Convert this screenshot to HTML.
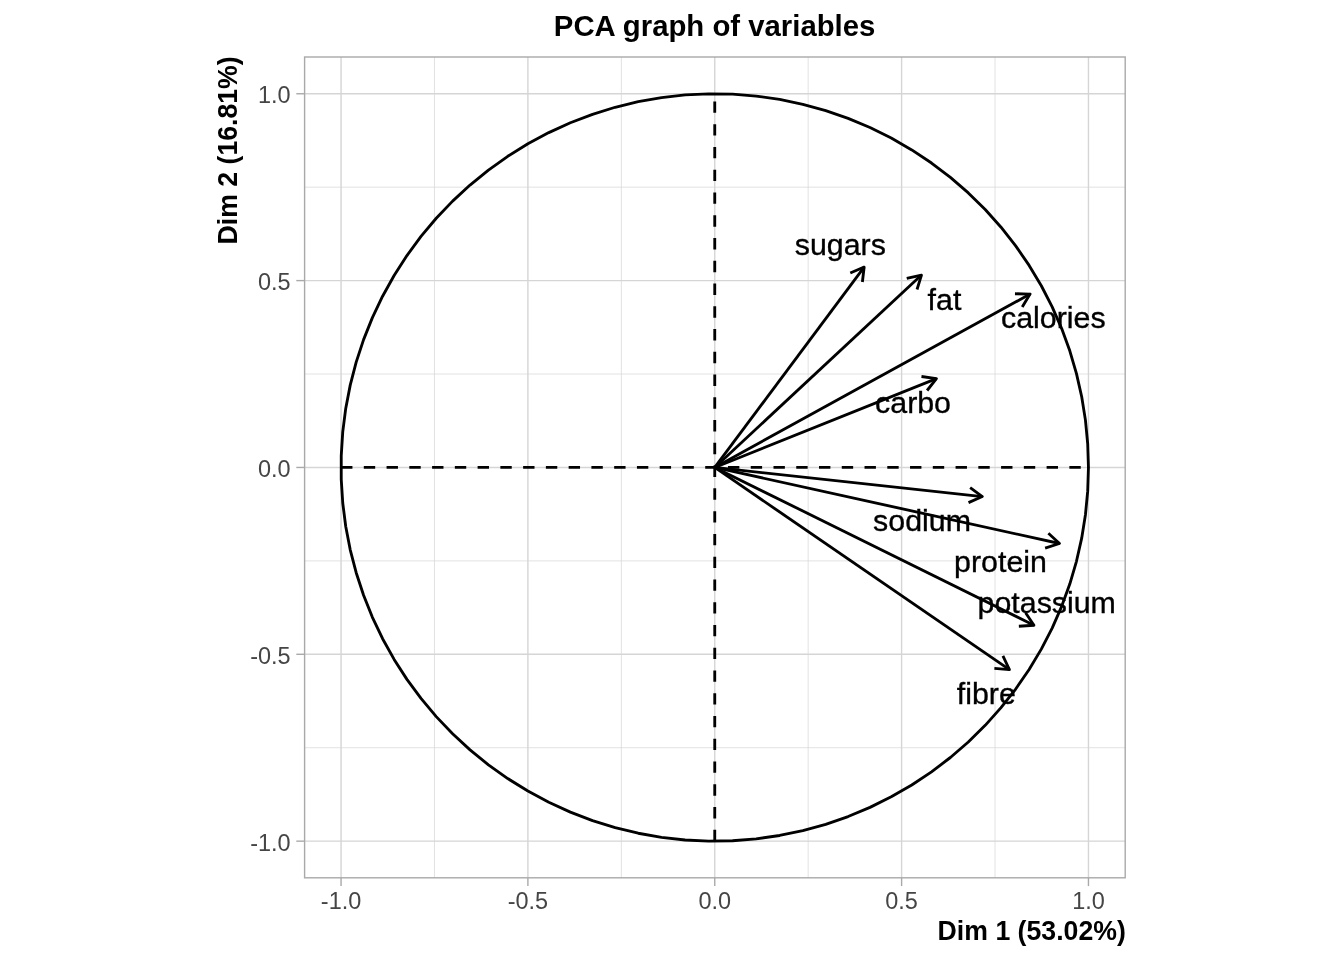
<!DOCTYPE html>
<html lang="en"><head><meta charset="utf-8"><title>PCA graph of variables</title>
<style>html,body{margin:0;padding:0;background:#fff;}svg{display:block;}text{font-family:"Liberation Sans",Arial,Helvetica,sans-serif;}</style></head><body>
<svg width="1344" height="960" viewBox="0 0 1344 960">
<rect width="1344" height="960" fill="#ffffff"/>
<g stroke="#d5d5d5" stroke-width="0.7" fill="none">
<line x1="434.48" y1="57.0" x2="434.48" y2="877.8"/>
<line x1="304.6" y1="747.72" x2="1125.2" y2="747.72"/>
<line x1="621.33" y1="57.0" x2="621.33" y2="877.8"/>
<line x1="304.6" y1="560.88" x2="1125.2" y2="560.88"/>
<line x1="808.17" y1="57.0" x2="808.17" y2="877.8"/>
<line x1="304.6" y1="374.02" x2="1125.2" y2="374.02"/>
<line x1="995.02" y1="57.0" x2="995.02" y2="877.8"/>
<line x1="304.6" y1="187.18" x2="1125.2" y2="187.18"/>
</g>
<g stroke="#d5d5d5" stroke-width="1.4" fill="none">
<line x1="341.05" y1="57.0" x2="341.05" y2="877.8"/>
<line x1="304.6" y1="841.15" x2="1125.2" y2="841.15"/>
<line x1="527.90" y1="57.0" x2="527.90" y2="877.8"/>
<line x1="304.6" y1="654.30" x2="1125.2" y2="654.30"/>
<line x1="714.75" y1="57.0" x2="714.75" y2="877.8"/>
<line x1="304.6" y1="467.45" x2="1125.2" y2="467.45"/>
<line x1="901.60" y1="57.0" x2="901.60" y2="877.8"/>
<line x1="304.6" y1="280.60" x2="1125.2" y2="280.60"/>
<line x1="1088.45" y1="57.0" x2="1088.45" y2="877.8"/>
<line x1="304.6" y1="93.75" x2="1125.2" y2="93.75"/>
</g>
<g stroke="#000" stroke-width="2.84" fill="none" stroke-dasharray="11.38 11.38">
<line x1="341.05" y1="467.45" x2="1088.45" y2="467.45"/>
<line x1="714.75" y1="841.15" x2="714.75" y2="93.75"/>
</g>
<polyline points="1088.45,467.45 1087.70,443.75 1085.44,420.14 1081.70,396.73 1076.47,373.60 1069.79,350.84 1061.68,328.56 1052.17,306.84 1041.31,285.76 1029.13,265.41 1015.68,245.88 1001.02,227.24 985.21,209.57 968.31,192.93 950.39,177.40 931.52,163.04 911.77,149.91 891.24,138.05 869.99,127.52 848.12,118.36 825.71,110.60 802.85,104.28 779.64,99.43 756.17,96.05 732.53,94.17 708.82,93.80 685.13,94.93 661.57,97.55 638.21,101.67 615.17,107.26 592.52,114.30 570.37,122.77 548.80,132.62 527.90,143.82 507.75,156.32 488.43,170.07 470.03,185.03 452.61,201.12 436.24,218.28 421.00,236.44 406.94,255.54 394.12,275.49 382.59,296.21 372.40,317.62 363.59,339.64 356.19,362.17 350.23,385.12 345.74,408.40 342.74,431.93 341.24,455.59 341.24,479.31 342.74,502.97 345.74,526.50 350.23,549.78 356.19,572.73 363.59,595.26 372.40,617.28 382.59,638.69 394.12,659.41 406.94,679.36 421.00,698.46 436.24,716.62 452.61,733.78 470.03,749.87 488.43,764.83 507.75,778.58 527.90,791.08 548.80,802.28 570.37,812.13 592.52,820.60 615.17,827.64 638.21,833.23 661.57,837.35 685.13,839.97 708.82,841.10 732.53,840.73 756.17,838.85 779.64,835.47 802.85,830.62 825.71,824.30 848.12,816.54 869.99,807.38 891.24,796.85 911.77,784.99 931.52,771.86 950.39,757.50 968.31,741.97 985.21,725.33 1001.02,707.66 1015.68,689.02 1029.13,669.49 1041.31,649.14 1052.17,628.06 1061.68,606.34 1069.79,584.06 1076.47,561.30 1081.70,538.17 1085.44,514.76 1087.70,491.15 1088.45,467.45" fill="none" stroke="#000" stroke-width="2.84" stroke-linejoin="round"/>
<g stroke="#000" stroke-width="2.84" fill="none" stroke-linejoin="round" stroke-linecap="butt">
<line x1="714.75" y1="467.45" x2="864.15" y2="267.04"/>
<polyline points="862.39,282.04 864.15,267.04 850.28,273.01"/>
<line x1="714.75" y1="467.45" x2="921.46" y2="275.07"/>
<polyline points="917.03,289.51 921.46,275.07 906.74,278.45"/>
<line x1="714.75" y1="467.45" x2="1030.06" y2="294.08"/>
<polyline points="1022.24,307.00 1030.06,294.08 1014.96,293.76"/>
<line x1="714.75" y1="467.45" x2="936.43" y2="378.63"/>
<polyline points="927.10,390.50 936.43,378.63 921.48,376.49"/>
<line x1="714.75" y1="467.45" x2="982.34" y2="496.55"/>
<polyline points="968.52,502.64 982.34,496.55 970.16,487.63"/>
<line x1="714.75" y1="467.45" x2="1059.51" y2="543.49"/>
<polyline points="1045.11,548.05 1059.51,543.49 1048.37,533.30"/>
<line x1="714.75" y1="467.45" x2="1033.93" y2="625.27"/>
<polyline points="1018.86,626.24 1033.93,625.27 1025.55,612.71"/>
<line x1="714.75" y1="467.45" x2="1009.43" y2="669.6"/>
<polyline points="994.38,668.43 1009.43,669.6 1002.92,655.98"/>
</g>
<g font-size="30.35" fill="#000" stroke="#000" stroke-width="0.35">
<text x="794.8" y="255.3">sugars</text>
<text x="927.6" y="310">fat</text>
<text x="1001" y="327.5">calories</text>
<text x="875.1" y="412.6">carbo</text>
<text x="873.1" y="530.7">sodium</text>
<text x="954.1" y="572.4">protein</text>
<text x="977.6" y="612.8">potassium</text>
<text x="956.8" y="703.5">fibre</text>
</g>
<rect x="304.6" y="57.0" width="820.60" height="820.80" fill="none" stroke="#a9a9a9" stroke-width="1.4"/>
<g stroke="#a9a9a9" stroke-width="1.4">
<line x1="341.05" y1="877.8" x2="341.05" y2="886.0999999999999"/>
<line x1="296.3" y1="841.15" x2="304.6" y2="841.15"/>
<line x1="527.90" y1="877.8" x2="527.90" y2="886.0999999999999"/>
<line x1="296.3" y1="654.30" x2="304.6" y2="654.30"/>
<line x1="714.75" y1="877.8" x2="714.75" y2="886.0999999999999"/>
<line x1="296.3" y1="467.45" x2="304.6" y2="467.45"/>
<line x1="901.60" y1="877.8" x2="901.60" y2="886.0999999999999"/>
<line x1="296.3" y1="280.60" x2="304.6" y2="280.60"/>
<line x1="1088.45" y1="877.8" x2="1088.45" y2="886.0999999999999"/>
<line x1="296.3" y1="93.75" x2="304.6" y2="93.75"/>
</g>
<g font-size="23.47" fill="#454545">
<text x="341.05" y="909.4" text-anchor="middle">-1.0</text>
<text x="290.6" y="850.60" text-anchor="end">-1.0</text>
<text x="527.90" y="909.4" text-anchor="middle">-0.5</text>
<text x="290.6" y="663.75" text-anchor="end">-0.5</text>
<text x="714.75" y="909.4" text-anchor="middle">0.0</text>
<text x="290.6" y="476.90" text-anchor="end">0.0</text>
<text x="901.60" y="909.4" text-anchor="middle">0.5</text>
<text x="290.6" y="290.05" text-anchor="end">0.5</text>
<text x="1088.45" y="909.4" text-anchor="middle">1.0</text>
<text x="290.6" y="103.20" text-anchor="end">1.0</text>
</g>
<g font-weight="bold" fill="#000">
<text transform="translate(714.60,36) scale(1,1.005)" font-size="29.33" text-anchor="middle">PCA graph of variables</text>
<text transform="translate(1125.80,939.7) scale(1,1.03)" font-size="26.67" text-anchor="end">Dim 1 (53.02%)</text>
<text transform="translate(236.7,56.30) rotate(-90) scale(1,1.03)" font-size="26.67" text-anchor="end">Dim 2 (16.81%)</text>
</g>
</svg></body></html>
